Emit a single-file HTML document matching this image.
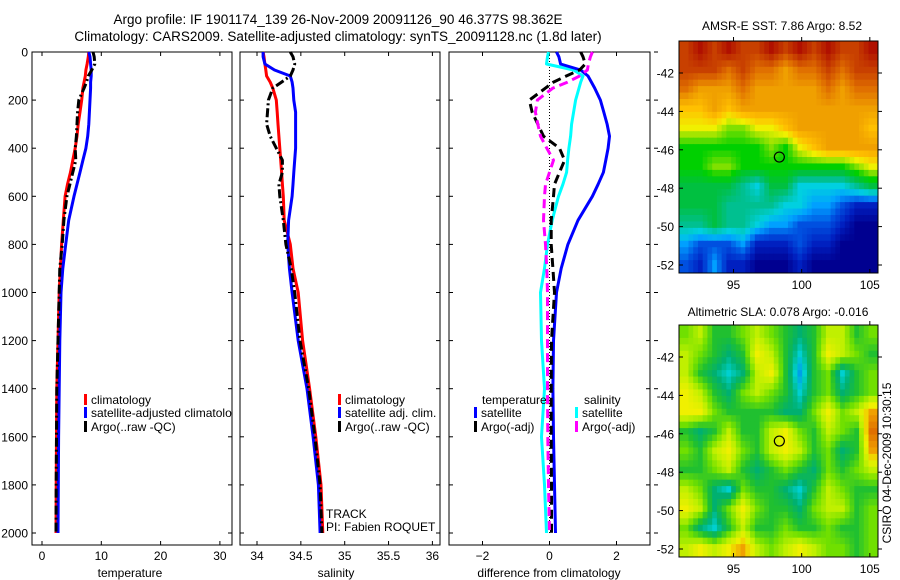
<!DOCTYPE html>
<html><head><meta charset="utf-8"><style>
html,body{margin:0;padding:0;background:#fff;}
svg{display:block;font-family:"Liberation Sans",Arial,sans-serif;}
</style></head><body>
<svg id="s" width="900" height="580" viewBox="0 0 900 580" xmlns="http://www.w3.org/2000/svg">
<defs><clipPath id="c1"><rect x="32" y="52" width="200" height="493"/></clipPath></defs>
<rect width="900" height="580" fill="#fff"/>
<text x="338" y="24" font-size="13.5" text-anchor="middle">Argo profile: IF 1901174_139 26-Nov-2009 20091126_90 46.377S 98.362E</text>
<text x="338" y="41" font-size="13.5" text-anchor="middle">Climatology: CARS2009. Satellite-adjusted climatology: synTS_20091128.nc (1.8d later)</text>
<text x="782" y="30" font-size="12" text-anchor="middle">AMSR-E SST: 7.86 Argo: 8.52</text>
<text x="778" y="316" font-size="12" text-anchor="middle">Altimetric SLA: 0.078 Argo: -0.016</text>
<text x="0" y="0" font-size="12" text-anchor="middle" transform="translate(891,463) rotate(-90)">CSIRO 04-Dec-2009 10:30:15</text>
<g id="g"></g>
</svg>
<script>
// ---- data ----
const depths=[0,20,50,75,100,125,150,200,250,300,350,400,450,500,550,600,700,800,900,1000,1200,1400,1600,1800,2000];
const tempClim=[7.9,7.8,7.6,7.4,7.3,7.1,6.9,6.7,6.4,6.1,5.9,5.6,5.2,4.8,4.3,3.9,3.6,3.3,3.1,2.9,2.7,2.5,2.45,2.4,2.36];
const tempSat=[7.9,8.1,8.2,8.3,8.3,8.2,8.2,8.1,8.0,7.9,7.7,7.4,6.9,6.4,5.9,5.4,4.5,4.0,3.5,3.2,3.0,2.9,2.8,2.75,2.7];
const tempArgo=[8.6,8.8,8.9,8.4,7.8,7.5,7.1,6.2,6.0,5.9,5.8,5.6,5.7,5.2,4.7,4.2,3.7,3.4,3.0,2.9,2.7,2.5,2.45,2.4,2.36];
const salClim=[34.07,34.08,34.09,34.10,34.11,34.15,34.18,34.22,34.23,34.24,34.25,34.26,34.27,34.28,34.29,34.30,34.31,34.38,34.41,34.47,34.52,34.60,34.67,34.73,34.75];
const salSat=[34.07,34.07,34.09,34.20,34.38,34.40,34.41,34.42,34.44,34.44,34.44,34.44,34.43,34.42,34.41,34.40,34.36,34.35,34.37,34.40,34.47,34.57,34.64,34.70,34.72];
const salArgo=[34.38,34.41,34.43,34.41,34.38,34.28,34.18,34.13,34.12,34.11,34.15,34.22,34.29,34.29,34.25,34.26,34.30,34.33,34.39,34.43,34.49,34.59,34.66,34.72,34.74];
const dTempSat=[0.21,0.28,0.33,0.93,1.15,1.25,1.35,1.52,1.62,1.72,1.79,1.75,1.68,1.61,1.45,1.28,0.85,0.55,0.35,0.21,0.12,0.10,0.12,0.15,0.18];
const dSalSat=[-0.03,-0.06,-0.09,0.72,1.0,0.93,0.88,0.78,0.72,0.66,0.63,0.58,0.54,0.51,0.40,0.27,0.08,-0.06,-0.15,-0.27,-0.24,-0.15,-0.24,-0.15,-0.09];
const dTempArgo=[0.93,1.0,1.07,0.9,0.5,0.12,-0.12,-0.6,-0.52,-0.35,-0.18,0.3,0.45,0.3,0.15,0.12,0.05,0.05,0.1,0.15,0.06,0.05,0.05,0.06,0.06];
const dSalArgo=[1.28,1.22,1.16,1.13,0.9,0.54,0.1,-0.36,-0.42,-0.35,-0.27,-0.08,0.12,0.0,-0.12,-0.15,-0.18,-0.12,-0.08,-0.06,-0.06,-0.06,-0.05,-0.03,0.0];
const yTicks=[0,200,400,600,800,1000,1200,1400,1600,1800,2000];
const tTicks=[0,10,20,30];
const sTicks=[34,34.5,35,35.5,36];
const sTickLabels=["34","34.5","35","35.5","36"];
const dTicks=[-2,0,2];
const latTicks=[-42,-44,-46,-48,-50,-52];
const lonTicks=[95,100,105];
const argoLon=98.362, argoLat=-46.377;
const sstGrid=[
[13,14,13,14,13,13,14,13,14,13,14,13,13,14],
[13,13,13,12,13,12,12,11,12,12,13,12,13,13],
[12,11,11,11,12,11,11,11,11,11,12,11,12,12],
[10,10,11,10,11,11,11,11,11,11,11,11,11,11],
[9,9,9,8,8,9,9,10,11,11,11,11,11,10],
[7,7,7,7,7,7,8,7,9,10,11,11,11,11],
[7,7,8,8,7,7,7,7,7,7,7,7,8,9],
[6,6,6,6,5,4,6,6,4,4,4,4,5,6],
[6,6,6,5,5,5,5,4,4,3,3,2,1,1],
[5,5,6,5,5,4,3,3,2,2,2,1,0,0],
[3,2,2,2,3,1,1,1,2,1,1,0,0,0],
[2,1,3,1,1,0,0,0,1,0,0,0,0,0]];
const slaGrid=[
[5,6,4,4,5,6,5,4,3,4,6,6,4,5],
[6,5,4,3,4,7,6,4,2,4,7,6,5,4],
[6,4,3,2,3,6,7,4,1,4,5,2,4,5],
[7,6,4,3,5,6,5,4,2,4,5,3,4,5],
[7,7,5,4,4,4,4,3,3,5,7,5,6,8],
[4,3,4,6,4,4,6,7,5,4,6,5,4,9],
[5,4,6,7,5,4,6,7,6,4,5,3,4,8],
[4,4,5,6,4,3,4,5,4,3,5,4,5,6],
[6,5,3,2,5,4,4,3,2,4,6,5,4,4],
[7,6,3,5,7,5,4,4,3,5,6,6,4,5],
[5,3,2,4,6,4,4,5,4,4,5,4,4,5],
[6,7,6,7,8,6,5,6,7,6,5,5,4,5]];
const sstColors=["#000090","#0020c0","#0050e0","#00a0ff","#00d0e0","#00c090","#00c040","#00d000","#80e000","#f0f000","#ffc000","#f0a000","#e07000","#c84000","#b01000"];
const slaColors=["#0060f0","#00a0e8","#00d0d0","#00b070","#20c030","#70e000","#c0f000","#f0f000","#f0a000","#e07000"];

// ---- helpers ----
const NS="http://www.w3.org/2000/svg";
const G=document.getElementById('g');
function mk(tag,attrs,parent){const e=document.createElementNS(NS,tag);for(const k in attrs)e.setAttribute(k,attrs[k]);(parent||G).appendChild(e);return e;}
const yD=d=>52+d*0.2405;
const panels=[
 {x0:32,x1:232,f:v=>42+v*5.93,name:'temperature'},
 {x0:240,x1:440,f:v=>257+(v-34)*87.7,name:'salinity'},
 {x0:449,x1:650,f:v=>549.5+v*33.5,name:'difference'}];
const yTop=52,yBot=545;

panels.forEach((p,pi)=>{
  const fr=mk('rect',{x:p.x0,y:yTop,width:p.x1-p.x0,height:yBot-yTop,fill:'none',stroke:'#000','stroke-width':1});
  
  
  yTicks.forEach(t=>{
    const y=yD(t);
    mk('line',{x1:p.x0,x2:p.x0+4,y1:y,y2:y,stroke:'#000'});
    mk('line',{x1:p.x1,x2:p.x1-4,y1:y,y2:y,stroke:'#000'});
    if(pi==0){const tx=mk('text',{x:28,y:y+4.5,'font-size':12,'text-anchor':'end'});tx.textContent=t;
      
      }
    if(pi==2){mk('line',{x1:p.x1+4,x2:p.x1+8,y1:y,y2:y,stroke:'#000'});}
  });
});
function xticks(p,ticks,labels){
  ticks.forEach((t,i)=>{const x=p.f(t);
    mk('line',{x1:x,x2:x,y1:yBot,y2:yBot-4,stroke:'#000'});
    mk('line',{x1:x,x2:x,y1:yTop,y2:yTop+4,stroke:'#000'});
    const tx=mk('text',{x:x,y:yBot+15,'font-size':12,'text-anchor':'middle'});tx.textContent=labels?labels[i]:(t<0?'−'+(-t):t);
    
    
  });
}
xticks(panels[0],tTicks);xticks(panels[1],sTicks,sTickLabels);xticks(panels[2],dTicks);
[['temperature',130],['salinity',336],['difference from climatology',549]].forEach(a=>{
  const t=mk('text',{x:a[1],y:577,'font-size':12,'text-anchor':'middle'});t.textContent=a[0];
  
  
});
const zl=mk('line',{x1:panels[2].f(0),x2:panels[2].f(0),y1:yTop,y2:yD(2000),stroke:'#000','stroke-dasharray':'1,2'});



function series(p,vals,color,dash,name){
  const pts=vals.map((v,i)=>p.f(v).toFixed(1)+','+yD(depths[i]).toFixed(1)).join(' ');
  const a={points:pts,fill:'none',stroke:color,'stroke-width':3,'stroke-linejoin':'round'};
  if(dash)a['stroke-dasharray']=dash;
  const e=mk('polyline',a);
  
  
}
series(panels[0],tempClim,'#ff0000',null,'temp-climatology-line');
series(panels[0],tempSat,'#0000ff',null,'temp-satellite-line');
series(panels[0],tempArgo,'#000',"9,3,2,3",'temp-argo-line');
series(panels[1],salClim,'#ff0000',null,'sal-climatology-line');
series(panels[1],salSat,'#0000ff',null,'sal-satellite-line');
series(panels[1],salArgo,'#000',"9,3,2,3",'sal-argo-line');
series(panels[2],dSalSat,'#00ffff',null,'diff-sal-satellite-line');
series(panels[2],dTempSat,'#0000ff',null,'diff-temp-satellite-line');
series(panels[2],dTempArgo,'#000',"9,5",'diff-temp-argo-line');
series(panels[2],dSalArgo,'#ff00ff',"9,5",'diff-sal-argo-line');

const clipG=mk('g',{'clip-path':'url(#c1)'});
function legend(x,y,color,label,name,parent){
  const r=mk('rect',{x:x,y:y-10,width:3,height:11,fill:color},parent);
  
  
  const t=mk('text',{x:x+7,y:y,'font-size':12},parent);t.textContent=label;
  
  
}
legend(84,404,'#ff0000','climatology','legend-entry',clipG);
legend(84,417,'#0000ff','satellite-adjusted climatology','legend-entry',clipG);
legend(84,431,'#000','Argo(..raw -QC)','legend-entry',clipG);
legend(338,404,'#ff0000','climatology','legend-entry');
legend(338,417,'#0000ff','satellite adj. clim.','legend-entry');
legend(338,431,'#000','Argo(..raw -QC)','legend-entry');
legend(474,417,'#0000ff','satellite','legend-entry');
legend(474,431,'#000','Argo(-adj)','legend-entry');
legend(575,417,'#00ffff','satellite','legend-entry');
legend(575,431,'#ff00ff','Argo(-adj)','legend-entry');
[['temperature',482],['salinity',584]].forEach(a=>{const t=mk('text',{x:a[1],y:404,'font-size':12});t.textContent=a[0];
  
  });
[['TRACK',518],['PI: Fabien ROQUET',531]].forEach(a=>{const t=mk('text',{x:326,y:a[1],'font-size':12});t.textContent=a[0];
  
  });

// ---- maps ----
function hex(c){return [parseInt(c.slice(1,3),16),parseInt(c.slice(3,5),16),parseInt(c.slice(5,7),16)];}
function cmap(colors,v){
  v=Math.max(0,Math.min(colors.length-1,v));
  const i=Math.min(colors.length-2,Math.floor(v)),f=v-i;
  const a=hex(colors[i]),b=hex(colors[i+1]);
  return 'rgb('+a.map((x,k)=>Math.round(x+(b[k]-x)*f)).join(',')+')';
}
function sample(grid,r,c){
  const R=grid.length,C=grid[0].length;
  r=Math.max(0,Math.min(R-1,r));c=Math.max(0,Math.min(C-1,c));
  const r0=Math.min(R-2,Math.floor(r)),c0=Math.min(C-2,Math.floor(c));
  const fr=r-r0,fc=c-c0;
  return grid[r0][c0]*(1-fr)*(1-fc)+grid[r0][c0+1]*(1-fr)*fc+grid[r0+1][c0]*fr*(1-fc)+grid[r0+1][c0+1]*fr*fc;
}
function map(top,grid,colors,name){
  const x0=679,x1=878,bot=top+232;
  const lonF=l=>679+(l-91.0)*13.63;
  const latF=l=>top+32+(-42-l)*19.2;
  const rows=grid.length,cols=grid[0].length,S=3;
  const cw=(x1-x0)/(cols*S),ch=(bot-top)/(rows*S);
  for(let r=0;r<rows*S;r++)for(let c=0;c<cols*S;c++){
    const v=sample(grid,(r+0.5)/S-0.5,(c+0.5)/S-0.5);
    const e=mk('rect',{x:(x0+c*cw).toFixed(2),y:(top+r*ch).toFixed(2),width:(cw+0.5).toFixed(2),height:(ch+0.5).toFixed(2),fill:cmap(colors,v)});
    
    
  }
  const fr=mk('rect',{x:x0,y:top,width:x1-x0,height:bot-top,fill:'none',stroke:'#000'});
  
  
  latTicks.forEach(l=>{const y=latF(l);
    mk('line',{x1:x0,x2:x0+4,y1:y,y2:y,stroke:'#000'});
    mk('line',{x1:x1,x2:x1+4,y1:y,y2:y,stroke:'#000'});
    const t=mk('text',{x:x0-5,y:y+4.5,'font-size':12,'text-anchor':'end'});t.textContent=l;
    
    });
  lonTicks.forEach(l=>{const x=lonF(l);
    mk('line',{x1:x,x2:x,y1:bot,y2:bot-4,stroke:'#000'});
    mk('line',{x1:x,x2:x,y1:top,y2:top-4,stroke:'#000'});
    const t=mk('text',{x:x,y:bot+16,'font-size':12,'text-anchor':'middle'});t.textContent=l;
    
    });
  const c=mk('circle',{cx:lonF(argoLon),cy:latF(argoLat),r:5,fill:'none',stroke:'#000','stroke-width':1.2});
  
  
}
map(41,sstGrid,sstColors,'sst-map');
map(325,slaGrid,slaColors,'sla-map');
</script>
</body></html>
